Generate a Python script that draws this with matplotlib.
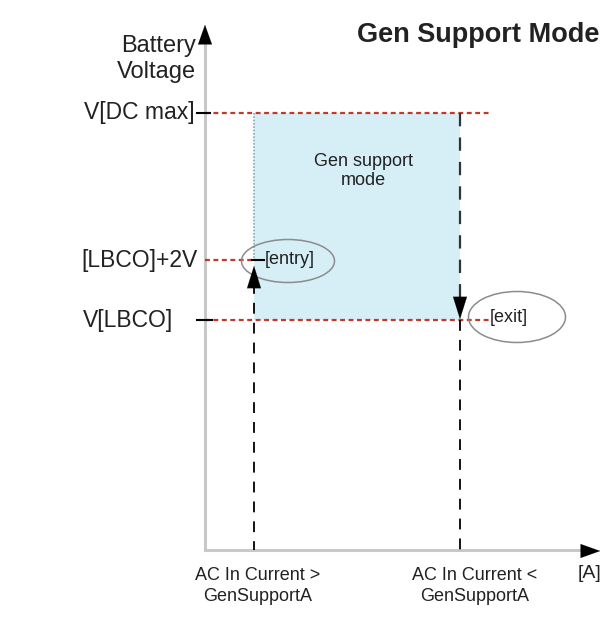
import matplotlib.pyplot as plt
from matplotlib.patches import Rectangle, Ellipse

plt.rcParams['font.family'] = ['Liberation Sans', 'DejaVu Sans']

# voltage levels (label, y position on the diagram)
level_labels = ["V[DC max]", "[LBCO]+2V", "V[LBCO]"]
level_y = [113, 260, 320]
level_label_x = [195, 198, 173]

# current thresholds (x position, label)
switch_x = [254, 460]
switch_labels = ["AC In Current >\nGenSupportA", "AC In Current <\nGenSupportA"]
switch_label_x = [258, 475]

# axes origin / ends
x0, y0 = 205, 550
x_end, y_top = 603, 22

RED = "#c0392b"
BLUE = "#d6eef6"
GRAY = "#c8c8c8"

fig = plt.figure(figsize=(6.03, 6.21), dpi=100)
ax = fig.add_axes([0, 0, 1, 1])
ax.set_xlim(0, 603)
ax.set_ylim(621, 0)
ax.axis("off")

# shaded gen support region
ax.add_patch(Rectangle((switch_x[0], level_y[0]), switch_x[1] - switch_x[0],
                       level_y[2] - level_y[0], facecolor=BLUE, edgecolor="none", zorder=1))
ax.plot([switch_x[0]] * 2, [level_y[0], level_y[1]], color="#8aa4b4", lw=1.2,
        ls=(0, (1, 1)), zorder=2)

# axes
ax.plot([x0, x0], [y0, y_top + 18], color=GRAY, lw=2.2, zorder=2)
ax.plot([x0, x_end - 15], [y0, y0], color=GRAY, lw=2.2, zorder=2)
head = "-|>,head_length=1.4,head_width=0.5"
ax.annotate("", xy=(x0, y_top), xytext=(x0, y_top + 20),
            arrowprops=dict(arrowstyle=head, color="black", lw=0.1))
ax.annotate("", xy=(x_end, y0 + 1), xytext=(x_end - 18, y0 + 1),
            arrowprops=dict(arrowstyle=head, color="black", lw=0.1))

# red dashed levels + tick marks
red_ends = [492, switch_x[0], 490]
for y, lab, lx, xe in zip(level_y, level_labels, level_label_x, red_ends):
    ax.plot([x0, xe], [y, y], color=RED, lw=1.6, ls=(0, (2.2, 1.6)), zorder=3)
    ax.text(lx, y, lab, ha="right", va="center", fontsize=16.5, color="#222222")
ax.plot([197, 210], [level_y[0], level_y[0]], color="black", lw=1.5, zorder=4)
ax.plot([197, 212], [level_y[2], level_y[2]], color="black", lw=1.5, zorder=4)
ax.plot([switch_x[0] - 2, switch_x[0] + 10], [level_y[1], level_y[1]], color="black", lw=1.5, zorder=4)

# vertical dashed switching lines
dash = (0, (6, 5))
ax.plot([switch_x[0]] * 2, [283, y0], color="black", lw=1.3, ls=dash, zorder=3)
ax.plot([switch_x[1]] * 2, [level_y[0], 302], color="#333333", lw=1.6, ls=dash, zorder=3)
ax.plot([switch_x[1]] * 2, [level_y[2], y0], color="black", lw=1.3, ls=dash, zorder=3)
small_head = "-|>,head_length=1.6,head_width=0.5"
ax.annotate("", xy=(switch_x[0], 263), xytext=(switch_x[0], 286),
            arrowprops=dict(arrowstyle=small_head, color="black", lw=0.1), zorder=5)
ax.annotate("", xy=(switch_x[1], 322), xytext=(switch_x[1], 299),
            arrowprops=dict(arrowstyle=small_head, color="black", lw=0.1), zorder=5)

# entry / exit ellipses
ax.add_patch(Ellipse((288, 261), 93, 43, facecolor="none", edgecolor="#8c8c8c", lw=1.1, zorder=4))
ax.add_patch(Ellipse((517, 317), 97, 51, facecolor="none", edgecolor="#8c8c8c", lw=1.1, zorder=4))
ax.text(265, 260, "[entry]", ha="left", va="center", fontsize=13, color="#222222", zorder=5)
ax.text(490, 318, "[exit]", ha="left", va="center", fontsize=13, color="#222222", zorder=5)

# texts
ax.text(363, 171, "Gen support\nmode", ha="center", va="center", fontsize=13,
        color="#222222", linespacing=1.2)
ax.text(196, 59, "Battery\nVoltage", ha="right", va="center", fontsize=17,
        color="#222222", linespacing=1.2)
ax.text(357, 35, "Gen Support Mode", ha="left", va="center", fontsize=19.5,
        fontweight="bold", color="#222222")
for sx, lab in zip(switch_label_x, switch_labels):
    ax.text(sx, 586, lab, ha="center", va="center", fontsize=13, color="#222222",
            linespacing=1.3)
ax.text(578, 573, "[A]", ha="left", va="center", fontsize=14, color="#222222")

fig.savefig("out.png", dpi=100)
